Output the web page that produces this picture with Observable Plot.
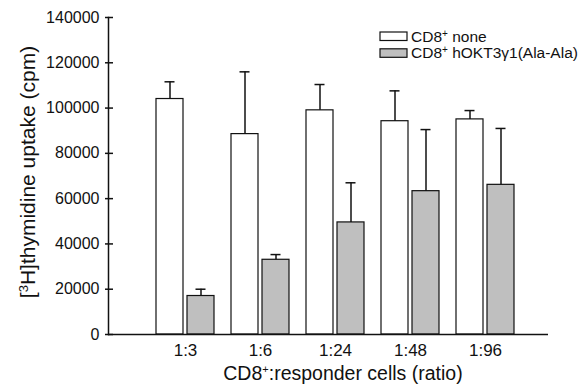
<!DOCTYPE html>
<html>
<head>
<meta charset="utf-8">
<script src="https://cdn.jsdelivr.net/npm/d3@7"></script>
<script src="https://cdn.jsdelivr.net/npm/@observablehq/plot@0.6"></script>
<style>
  html, body { margin: 0; padding: 0; background: #fff; }
  #wrap { position: relative; width: 582px; height: 384px; }
</style>
</head>
<body>
<div id="wrap"></div>
<script>
const ratios = ["1:3", "1:6", "1:24", "1:48", "1:96"];
const seriesNames = [["CD8", "+", " none"], ["CD8", "+", " hOKT3\u03B31(Ala-Ala)"]];
const noneMean = [104000, 88500, 99000, 94200, 95000];
const noneErr = [7600, 27500, 11400, 13400, 3900];
const okt3Mean = [17000, 33000, 49500, 63300, 66100];
const okt3Err = [3000, 2300, 17500, 27200, 24900];
const yTicks = [0, 20000, 40000, 60000, 80000, 100000, 120000, 140000];
const fills = ["#ffffff", "#bfbfbf"];

const noneData = ratios.map((r, i) => ({ratio: r, mean: noneMean[i], top: noneMean[i] + noneErr[i]}));
const okt3Data = ratios.map((r, i) => ({ratio: r, mean: okt3Mean[i], top: okt3Mean[i] + okt3Err[i]}));

const half = 15.5;
const chart = Plot.plot({
  width: 582,
  height: 384,
  marginLeft: 108,
  marginRight: 34,
  marginTop: 17,
  marginBottom: 50,
  style: {fontFamily: "Liberation Sans, Arial, sans-serif", background: "#fff", color: "#111"},
  x: {domain: ratios, paddingInner: 0.232, paddingOuter: 0.53, align: 0.5875, label: null},
  y: {domain: [0, 140000], label: null},
  marks: [
    Plot.barY(noneData, {x: "ratio", y: "mean", fill: fills[0], stroke: "#111", strokeWidth: 1.2, insetRight: 31}),
    Plot.barY(okt3Data, {x: "ratio", y: "mean", fill: fills[1], stroke: "#111", strokeWidth: 1.2, insetLeft: 31}),
    Plot.ruleX(noneData, {x: "ratio", y1: "mean", y2: "top", dx: -half, stroke: "#111", strokeWidth: 1.5}),
    Plot.ruleX(okt3Data, {x: "ratio", y1: "mean", y2: "top", dx: half, stroke: "#111", strokeWidth: 1.5}),
    Plot.tickY(noneData, {x: "ratio", y: "top", dx: -half, insetLeft: 24, insetRight: 24, stroke: "#111", strokeWidth: 1.5}),
    Plot.tickY(okt3Data, {x: "ratio", y: "top", dx: half, insetLeft: 24, insetRight: 24, stroke: "#111", strokeWidth: 1.5}),
    Plot.ruleY([0], {stroke: "#111", strokeWidth: 1.5}),
    Plot.frame({anchor: "left", stroke: "#111", strokeWidth: 1.5}),
    Plot.axisY({ticks: yTicks, tickFormat: d3.format("d"), tickSize: 8, dx: 5, tickPadding: 6, fontSize: 16, strokeWidth: 1.5, label: null}),
    Plot.axisX({tickSize: 0, tickPadding: 9, fontSize: 17, label: null})
  ]
});

const svg = d3.select(chart);
const yl = svg.append("text")
  .attr("transform", "translate(35,172) rotate(-90)")
  .attr("text-anchor", "middle")
  .attr("font-size", 21)
  .attr("fill", "#111");
yl.append("tspan").text("[");
yl.append("tspan").attr("font-size", 13).attr("dy", -7).text("3");
yl.append("tspan").attr("dy", 7).text("H]thymidine uptake (cpm)");

const xl = svg.append("text")
  .attr("x", 343).attr("y", 380)
  .attr("text-anchor", "middle")
  .attr("font-size", 19.5)
  .attr("fill", "#111");
xl.append("tspan").text("CD8");
xl.append("tspan").attr("font-size", 11).attr("dy", -7).text("+");
xl.append("tspan").attr("dy", 7).text(":responder cells (ratio)");

const lg = svg.append("g").attr("transform", "translate(380,32)");
seriesNames.forEach((p, i) => {
  const gy = i * 16.8;
  lg.append("rect").attr("x", 0).attr("y", gy).attr("width", 27).attr("height", 8.5)
    .attr("fill", fills[i]).attr("stroke", "#111").attr("stroke-width", 1.2);
  const t = lg.append("text").attr("x", 31).attr("y", gy + 9.5)
    .attr("text-anchor", "start")
    .attr("font-size", 15.5).attr("fill", "#111");
  t.append("tspan").text(p[0]);
  t.append("tspan").attr("font-size", 10).attr("dy", -5).text(p[1]);
  t.append("tspan").attr("dy", 5).text(p[2]);
});

document.getElementById("wrap").prepend(chart);
</script>
</body>
</html>
